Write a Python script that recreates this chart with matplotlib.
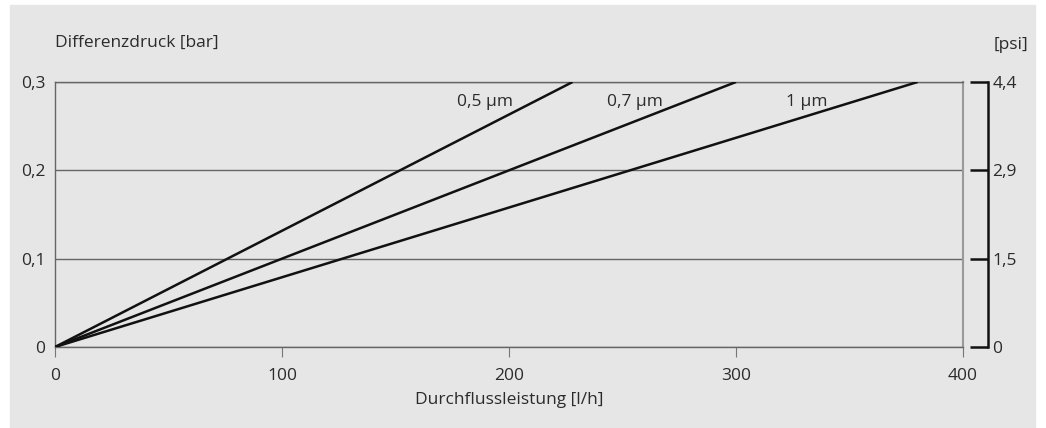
import matplotlib.pyplot as plt
from matplotlib.patches import Rectangle

# Durchfluss bei 0,3 bar je Porengröße
porengroesse = ['0,5 µm', '0,7 µm', '1 µm']
durchfluss_max = [228, 300, 380]
druck_max = 0.3
label_x = [177, 243, 322]
label_y = [0.277, 0.277, 0.277]

bar_ticks = [0, 0.1, 0.2, 0.3]
bar_labels = ['0', '0,1', '0,2', '0,3']
psi_labels = ['0', '1,5', '2,9', '4,4']
x_ticks = [0, 100, 200, 300, 400]

plt.rcParams['font.family'] = ['Open Sans', 'DejaVu Sans']
grau = '#e6e6e6'
txt = '#2b2b2b'
fs = 12.5

fig = plt.figure(figsize=(10.46, 4.28), dpi=100)
fig.patches.append(Rectangle((10 / 1046, 0), 1025 / 1046, 423 / 428,
                             transform=fig.transFigure, color=grau, zorder=-10))

ax = fig.add_axes([55 / 1046, 81 / 428, 908 / 1046, 265 / 428])
ax.set_facecolor(grau)
for i in range(len(porengroesse)):
    ax.plot([0, durchfluss_max[i]], [0, druck_max], color='#111111', lw=1.8, zorder=3,
            solid_capstyle='butt')
    ax.text(label_x[i], label_y[i], porengroesse[i], fontsize=fs, color=txt,
            ha='left', va='center')

ax.set_xlim(0, 400)
ax.set_ylim(0, 0.3)
ax.set_xticks(x_ticks)
ax.set_xticklabels([str(v) for v in x_ticks])
ax.set_yticks(bar_ticks)
ax.set_yticklabels(bar_labels)
ax.tick_params(axis='y', length=0, pad=7, labelsize=fs, labelcolor=txt)
ax.tick_params(axis='x', length=7, width=0.8, color='#777777', pad=8,
               labelsize=fs, labelcolor=txt)
ax.yaxis.grid(True, color='#666666', lw=1)
for s in ax.spines.values():
    s.set_color('#666666')
    s.set_linewidth(1)
ax.spines['right'].set_color('#999999')
ax.spines['right'].set_linewidth(1.5)
ax.set_xlabel('Durchflussleistung [l/h]', fontsize=fs, color=txt, labelpad=6)

ax2 = ax.twinx()
ax2.set_ylim(0, 0.3)
ax2.set_yticks(bar_ticks)
ax2.set_yticklabels(psi_labels)
for n in ['top', 'bottom', 'left']:
    ax2.spines[n].set_visible(False)
ax2.spines['right'].set_position(('outward', 18))
ax2.spines['right'].set_color('#111111')
ax2.spines['right'].set_linewidth(1.8)
ax2.tick_params(axis='y', direction='in', length=13, width=1.8, color='#111111',
                pad=3, labelsize=fs, labelcolor=txt)

fig.text(55 / 1046, 1 - 43 / 428, 'Differenzdruck [bar]', fontsize=fs, color=txt,
         ha='left', va='center')
fig.text(1028 / 1046, 1 - 45 / 428, '[psi]', fontsize=fs, color=txt,
         ha='right', va='center')

fig.savefig('out.png', dpi=100)
